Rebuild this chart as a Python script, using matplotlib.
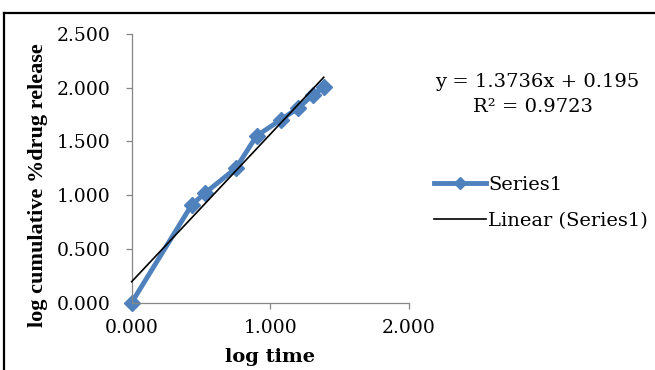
import matplotlib
matplotlib.use("Agg")
import matplotlib.pyplot as plt
from matplotlib.lines import Line2D
import numpy as np

log_time = [0.000, 0.433, 0.528, 0.752, 0.901, 1.076, 1.201, 1.309, 1.385]
log_release = [0.000, 0.910, 1.019, 1.252, 1.553, 1.702, 1.812, 1.936, 2.005]
slope = 1.3736
intercept = 0.195
r2 = 0.9723
xticks = [0.0, 1.0, 2.0]
yticks = [0.0, 0.5, 1.0, 1.5, 2.0, 2.5]

plt.rcParams['font.family'] = ['DejaVu Serif', 'Liberation Serif']

fig = plt.figure(figsize=(6.55, 3.70), dpi=100)
ax = fig.add_axes([0.201, 0.182, 0.4235, 0.726])

blue = '#4F81BD'
ax.plot(log_time, log_release, color=blue, lw=3.5, marker='D', ms=8.5,
        markeredgecolor=blue, zorder=2, clip_on=False)
xt = np.array([0.0, max(log_time)])
ax.plot(xt, slope * xt + intercept, color='black', lw=1.2, zorder=3,
        clip_on=False)

ax.set_xlim(0, 2)
ax.set_ylim(0, 2.5)
ax.set_xticks(xticks)
ax.set_yticks(yticks)
ax.set_xticklabels([f"{v:.3f}" for v in xticks], fontsize=13.5)
ax.set_yticklabels([f"{v:.3f}" for v in yticks], fontsize=13.5)
for s in ['top', 'right']:
    ax.spines[s].set_visible(False)
for s in ['left', 'bottom']:
    ax.spines[s].set_color('#868686')
    ax.spines[s].set_linewidth(0.9)
ax.tick_params(axis='both', colors='#868686', length=4, width=0.9,
               labelcolor='black')
ax.tick_params(axis='x', pad=8)
ax.tick_params(axis='y', pad=11)
ax.set_xlabel('log time', fontsize=14, fontweight='bold')
ax.xaxis.set_label_coords(0.5, -0.17)
ax.set_ylabel('log cumulative %drug release', fontsize=16, fontweight='bold',
              family=['Liberation Serif', 'DejaVu Serif'])
ax.yaxis.label.set_va('center')
ax.yaxis.set_label_coords(-0.338, 0.437)

fig.text(0.8195, 0.778, f"y = {slope}x + {intercept}", ha='center',
         va='center', fontsize=14)
fig.text(0.8145, 0.710, f"R² = {r2}", ha='center', va='center', fontsize=14)

handles = [Line2D([], [], color=blue, lw=3.5, marker='D', ms=6.5),
           Line2D([], [], color='black', lw=1.2)]
fig.legend(handles, ['Series1', 'Linear (Series1)'], loc='upper left',
           bbox_to_anchor=(0.662, 0.524), frameon=False, fontsize=14,
           handlelength=2.7, handletextpad=0.12, labelspacing=0.9,
           borderaxespad=0, borderpad=0)

# chart-area border (top and left edges visible)
fig.add_artist(Line2D([4/655, 1.0], [1 - 13/370, 1 - 13/370],
                      transform=fig.transFigure, color='black', lw=1.6))
fig.add_artist(Line2D([4/655, 4/655], [0.0, 1 - 13/370],
                      transform=fig.transFigure, color='black', lw=1.6))

fig.savefig('out.png', dpi=100)
